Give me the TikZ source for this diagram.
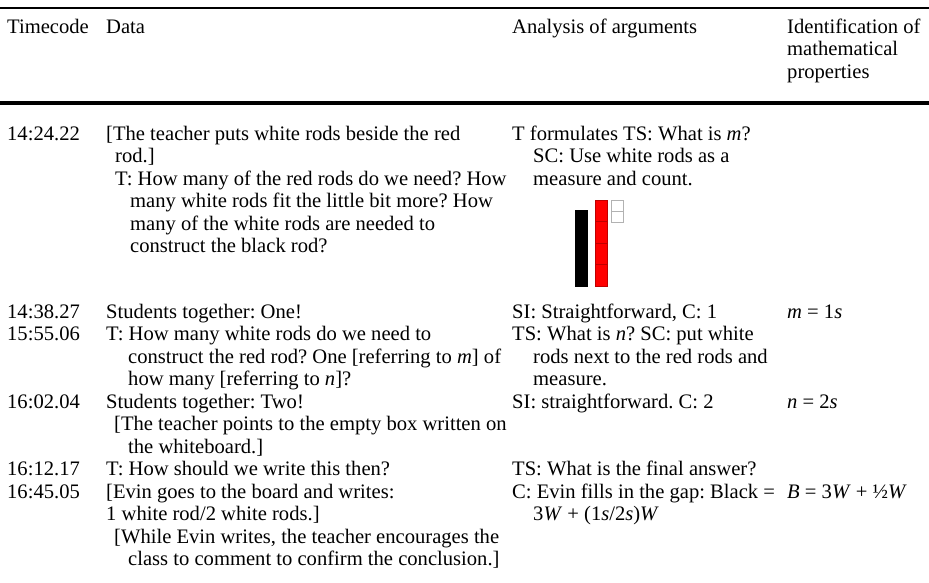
\documentclass[tikz,border=0pt]{standalone}
\usepackage{fontspec}
\setmainfont{Liberation Serif}
\frenchspacing
\begin{document}
\begin{tikzpicture}[x=1pt,y=-1pt,
  txt/.style={anchor=base west,inner sep=0pt,font=\fontsize{20.6}{22.5}\selectfont\frenchspacing},
  rulethick/.style={line width=2.4pt},
  rulehead/.style={line width=3.4pt},
  rodred/.style={fill=red,draw=red!75!black,line width=0.6pt},
  rodblack/.style={fill=black},
  rodwhite/.style={fill=white,draw=black!30,line width=0.8pt}]
\useasboundingbox (0,0) rectangle (929,582);
% rules
\coordinate (r1l) at (0,8); \coordinate (r1r) at (929,8);
\coordinate (r2l) at (0,103); \coordinate (r2r) at (929,103);
\draw[rulethick] (r1l) -- (r1r);
\draw[rulehead] (r2l) -- (r2r);
% header
\node[txt] (h1) at (7,33) {Timecode};
\node[txt] (h2) at (106,33) {Data};
\node[txt] (h3) at (512,33) {Analysis of arguments};
\node[txt] (h4a) at (787,33) {Identification of};
\node[txt] (h4b) at (787,55.5) {mathematical};
\node[txt] (h4c) at (787,78) {properties};
% timecodes
\node[txt] (t1) at (7,140) {14:24.22};
\node[txt] (t2) at (7,318) {14:38.27};
\node[txt] (t3) at (7,340.5) {15:55.06};
\node[txt] (t4) at (7,408) {16:02.04};
\node[txt] (t5) at (7,475.5) {16:12.17};
\node[txt] (t6) at (7,498) {16:45.05};
% data
\node[txt] (d1) at (106,140) {[The teacher puts white rods beside the red};
\node[txt] (d2) at (115,162.5) {rod.]};
\node[txt] (d3) at (115,185) {T: How many of the red rods do we need? How};
\node[txt] (d4) at (130,207.5) {many white rods fit the little bit more? How};
\node[txt] (d5) at (130,230) {many of the white rods are needed to};
\node[txt] (d6) at (130,252.5) {construct the black rod?};
\node[txt] (d7) at (106,318) {Students together: One!};
\node[txt] (d8) at (106,340.5) {T: How many white rods do we need to};
\node[txt] (d9) at (128,363) {construct the red rod? One [referring to \textit{m}] of};
\node[txt] (d10) at (128,385.5) {how many [referring to \textit{n}]?};
\node[txt] (d11) at (106,408) {Students together: Two!};
\node[txt] (d12) at (114,430.5) {[The teacher points to the empty box written on};
\node[txt] (d13) at (128,453) {the whiteboard.]};
\node[txt] (d14) at (106,475.5) {T: How should we write this then?};
\node[txt] (d15) at (106,498) {[Evin goes to the board and writes:};
\node[txt] (d16) at (106,520.5) {1 white rod/2 white rods.]};
\node[txt] (d17) at (114,543) {[While Evin writes, the teacher encourages the};
\node[txt] (d18) at (128,565.5) {class to comment to confirm the conclusion.]};
% analysis
\node[txt] (a1) at (512,140) {T formulates TS: What is \textit{m}?};
\node[txt] (a2) at (533,162.5) {SC: Use white rods as a};
\node[txt] (a3) at (533,185) {measure and count.};
\node[txt] (a4) at (512,318) {SI: Straightforward, C: 1};
\node[txt] (a5) at (512,340.5) {TS: What is \textit{n}? SC: put white};
\node[txt] (a6) at (533,363) {rods next to the red rods and};
\node[txt] (a7) at (533,385.5) {measure.};
\node[txt] (a8) at (512,408) {SI: straightforward. C: 2};
\node[txt] (a9) at (512,475.5) {TS: What is the final answer?};
\node[txt] (a10) at (512,498) {C: Evin fills in the gap: Black =};
\node[txt] (a11) at (533,520.5) {3\textit{W} + (1\textit{s}/2\textit{s})\textit{W}};
% identification
\node[txt] (i1) at (787,318) {\textit{m} = 1\textit{s}};
\node[txt] (i2) at (787,408) {\textit{n} = 2\textit{s}};
\node[txt] (i3) at (787,498) {\textit{B} = 3\textit{W} + ½\textit{W}};
% rods
\draw[rodblack] (575,210) rectangle (587,286);
\draw[rodred] (595,200) rectangle (607,221.5);
\draw[rodred] (595,221.5) rectangle (607,243);
\draw[rodred] (595,243) rectangle (607,264.5);
\draw[rodred] (595,264.5) rectangle (607,286);
\draw[rodwhite] (611,200) rectangle (623,211);
\draw[rodwhite] (611,211) rectangle (623,222);
\end{tikzpicture}
\end{document}
